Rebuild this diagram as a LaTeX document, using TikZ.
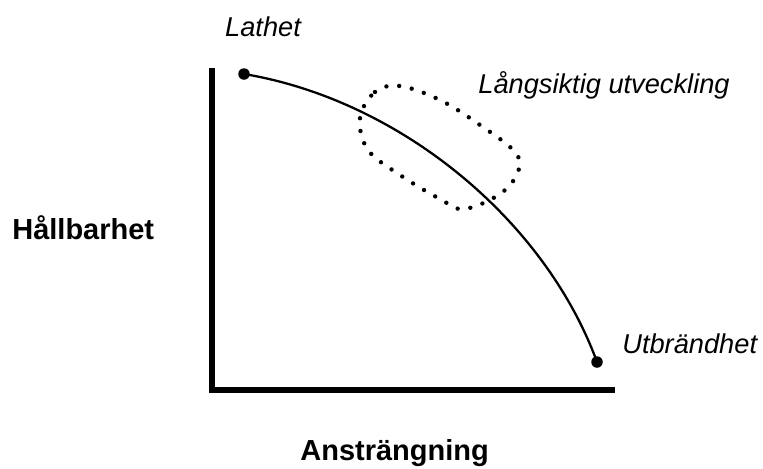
\documentclass[tikz,border=0pt]{standalone}
\usepackage{fontspec}
\setmainfont{Liberation Sans}
\usepackage{tikz}
\definecolor{linje}{RGB}{0,0,0}
\tikzset{
  punkt/.style={circle, fill=linje, inner sep=0pt, minimum size=0.23cm},
  etikett/.style={font=\fontsize{15.5}{18}\selectfont\itshape, inner sep=0pt},
  axeltext/.style={font=\fontsize{16.5}{19}\selectfont\bfseries, inner sep=0pt}
}

\begin{document}
\begin{tikzpicture}[x=0.02cm, y=-0.02cm]
        \useasboundingbox (0,0) rectangle (763,468);
        % axlar
        \coordinate (ytopp) at (212,68);
        \coordinate (xslut) at (615,390);
        \draw[linje, line width=3.1pt, line join=miter] (ytopp) |- (xslut);
        \node[axeltext, anchor=base west] (hallbar) at (12,239) {Hållbarhet};
        \node[axeltext, anchor=base west] (anstr) at (300,460) {Ansträngning};
        % kurva
        \node[punkt] (lathet) at (244,74) {};
        \node[punkt] (utbrand) at (597,362) {};
        \draw[linje, line width=1.3pt] (lathet.center) .. controls (400,100) and (545,220) .. (utbrand.center);
        \node[etikett, anchor=base] (lathettext) at (263,36) {Lathet};
        \node[etikett, anchor=base west] (utbrandtext) at (622,353) {Utbrändhet};
        % område
        \draw[linje, line width=2.5pt, line cap=round, dash pattern=on 0pt off 7.3pt]
          plot[smooth cycle, tension=0.6] coordinates {(360,118) (375,92) (400,86) (440,100) (480,125)
            (515,152) (518,172) (500,194) (464,209) (440,199) (400,175) (368,150)};
        \node[etikett, anchor=base west] (utvtext) at (478,93) {Långsiktig utveckling};
      \end{tikzpicture}
\end{document}
